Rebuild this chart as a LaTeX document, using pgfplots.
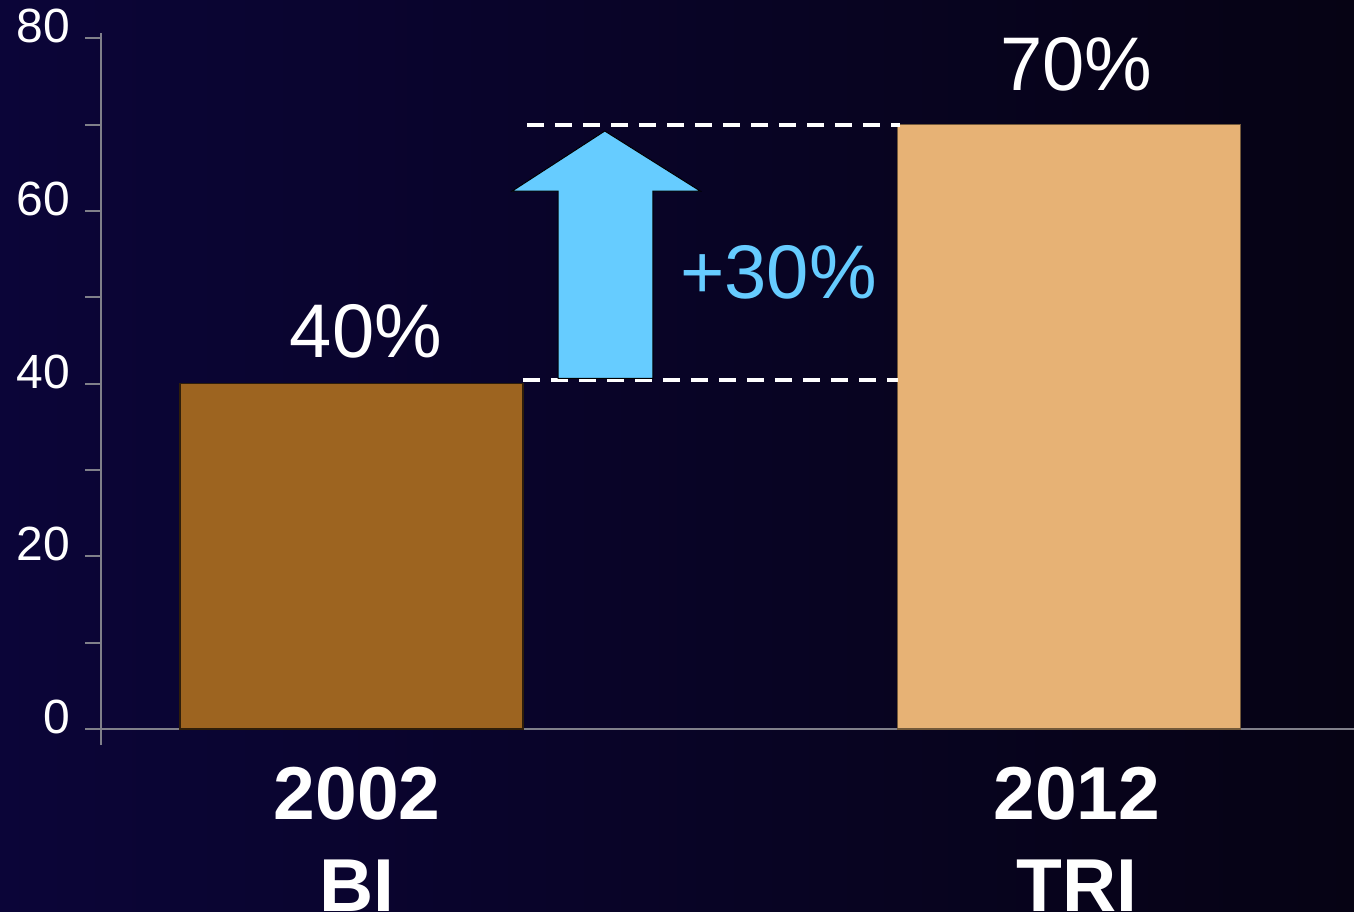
\documentclass[border=0pt]{standalone}
\usepackage{pgfplots}
\pgfplotsset{compat=1.18}
\usepackage{fontspec}
\setmainfont{Liberation Sans}
\definecolor{bgleft}{RGB}{11,5,56}
\definecolor{bgright}{RGB}{6,3,20}
\definecolor{barbi}{RGB}{157,100,32}
\definecolor{bartri}{RGB}{231,178,117}
\definecolor{arrowblue}{RGB}{102,204,255}
\definecolor{axisgrey}{RGB}{128,128,138}

\begin{document}
\begin{tikzpicture}
% background, 1px = 0.5pt
\fill[left color=bgleft, right color=bgright] (0,0) rectangle (677pt,455.5pt);
\begin{axis}[
  at={(50.5pt,83pt)}, anchor=south west,
  scale only axis, width=626.5pt, height=356pt,
  xmin=0.651, xmax=2.397, ymin=-1.85, ymax=80.6,
  axis x line=middle, axis y line=left,
  axis line style={-, draw=axisgrey, line width=1pt},
  xtick=\empty,
  ytick={0,20,40,60,80}, minor ytick={10,30,50,70},
  tick align=outside, major tick length=8pt, minor tick length=8pt,
  tick style={draw=axisgrey, line width=1pt},
  /pgf/number format/assume math mode=true,
  yticklabel style={font=\fontsize{24}{27}\selectfont, text=white, xshift=-4pt, yshift=6pt},
  ybar, bar width=0.478, bar shift=0pt,
  clip=false,
]
\addplot[fill=barbi, draw=black!70!barbi, line width=0.6pt] coordinates {(1,40)};
\addplot[fill=bartri, draw=black!50!bartri, line width=0.6pt] coordinates {(2,70)};

% dashed guide lines
\draw[white, line width=2pt, dash pattern=on 8.5pt off 5.5pt] (axis cs:1.245,70) -- (axis cs:1.764,70);
\draw[white, line width=2pt, dash pattern=on 8.5pt off 5.5pt] (axis cs:1.239,40.4) -- (axis cs:1.762,40.4);

% block arrow
\filldraw[fill=arrowblue, draw=black, line width=0.5pt]
  (axis cs:1.288,40.6) -- (axis cs:1.288,62.3) -- (axis cs:1.224,62.3) -- (axis cs:1.353,69.25)
  -- (axis cs:1.486,62.3) -- (axis cs:1.420,62.3) -- (axis cs:1.420,40.6) -- cycle;

% value labels
\node[anchor=base, text=white, font=\fontsize{38}{42}\selectfont] at (axis cs:1.02,43) {40\%};
\node[anchor=base, text=white, font=\fontsize{38}{42}\selectfont] at (axis cs:2.01,73.9) {70\%};
\node[anchor=base, text=arrowblue, font=\fontsize{38}{42}\selectfont] at (axis cs:1.595,49.8) {+30\%};

% category labels
\node[anchor=base, text=white, align=center, font=\bfseries\fontsize{37.5}{46}\selectfont] at (axis cs:1.008,-21.1) {2002\\BI};
\node[anchor=base, text=white, align=center, font=\bfseries\fontsize{37.5}{46}\selectfont] at (axis cs:2.011,-21.1) {2012\\TRI};
\end{axis}
\pgfresetboundingbox
\path[use as bounding box] (0,0) rectangle (677pt,455.5pt);
\end{tikzpicture}
\end{document}
